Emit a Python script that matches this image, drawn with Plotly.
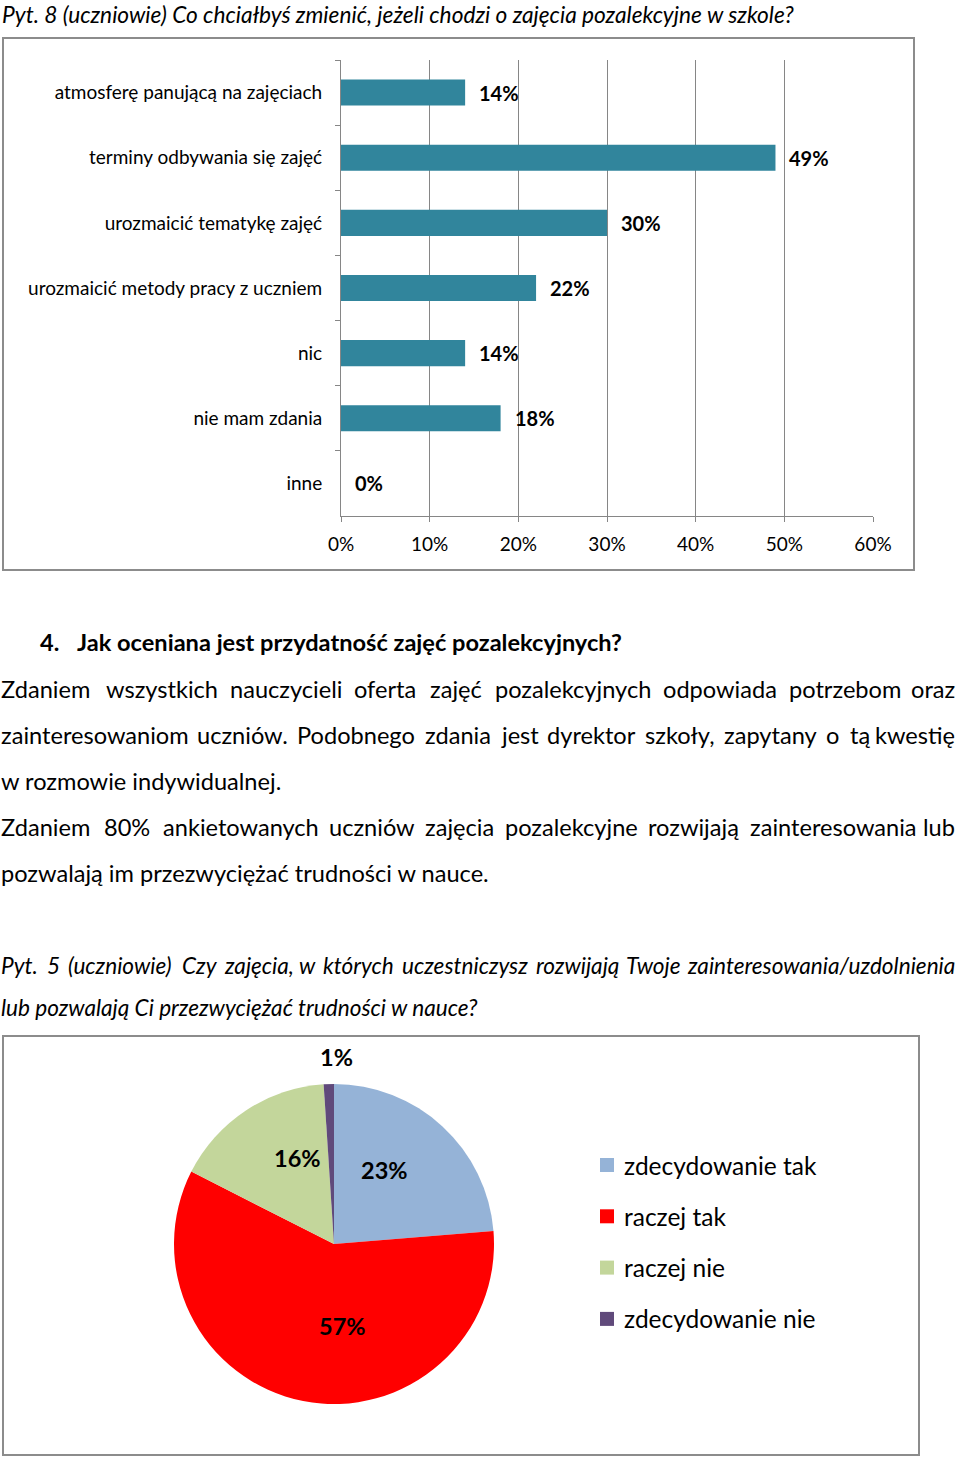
import plotly.graph_objects as go

W, H = 960, 1458

# ---------------- data ----------------
bar_categories = [
    "atmosferę panującą na zajęciach",
    "terminy odbywania się zajęć",
    "urozmaicić tematykę zajęć",
    "urozmaicić metody pracy z uczniem",
    "nic",
    "nie mam zdania",
    "inne",
]
bar_values = [14, 49, 30, 22, 14, 18, 0]
x_tick_values = [0, 10, 20, 30, 40, 50, 60]

pie_labels = ["zdecydowanie tak", "raczej tak", "raczej nie", "zdecydowanie nie"]
pie_values = [23, 57, 16, 1]
pie_colors = ["#95B3D7", "#FF0000", "#C3D69B", "#604A7B"]

title_bar = "Pyt. 8 (uczniowie) Co chciałbyś zmienić, jeżeli chodzi o zajęcia pozalekcyjne w szkole?"
heading_num = "4."
heading_text = "Jak oceniana jest przydatność zajęć pozalekcyjnych?"
para_lines = [
    ("Zdaniem wszystkich nauczycieli oferta zajęć pozalekcyjnych odpowiada potrzebom oraz", True),
    ("zainteresowaniom uczniów. Podobnego zdania jest dyrektor szkoły, zapytany o tą kwestię", True),
    ("w rozmowie indywidualnej.", False),
    ("Zdaniem 80% ankietowanych uczniów zajęcia pozalekcyjne rozwijają zainteresowania lub", True),
    ("pozwalają im przezwyciężać trudności w nauce.", False),
]
pie_title_lines = [
    ("Pyt. 5 (uczniowie) Czy zajęcia, w których uczestniczysz rozwijają Twoje zainteresowania/uzdolnienia", True),
    ("lub pozwalają Ci przezwyciężać trudności w nauce?", False),
]

FONT = "Lato, 'Open Sans', sans-serif"


def xp(px):
    return px / W


def yp(py):
    return 1 - py / H


# approximate glyph widths (em) for justification
_w = {
    'a': .49, 'b': .55, 'c': .46, 'd': .55, 'e': .51, 'f': .32, 'g': .49, 'h': .55,
    'i': .23, 'j': .23, 'k': .50, 'l': .23, 'm': .83, 'n': .55, 'o': .55, 'p': .55,
    'q': .55, 'r': .36, 's': .42, 't': .35, 'u': .55, 'v': .50, 'w': .76, 'x': .49,
    'y': .50, 'z': .44, '.': .23, ',': .23, '%': .78, '/': .37, '?': .42, '(': .30,
    ')': .30, ' ': .19,
}
_map = {'ą': 'a', 'ę': 'e', 'ć': 'c', 'ś': 's', 'ż': 'z', 'ź': 'z', 'ó': 'o', 'ł': 'l', 'ń': 'n'}


def est_width(word, size, factor=1.0):
    tot = 0
    for ch in word:
        c = _map.get(ch, ch)
        if c in _w:
            tot += _w[c]
        elif c.isdigit():
            tot += .58
        elif c.isupper():
            tot += .64
        else:
            tot += .5
    return tot * size * factor


annotations = []
shapes = []


def add_line(text, y, size, justify, style="normal", weight="normal", x0=0, x1=956):
    f = dict(family=FONT, size=size, color="#000000", style=style, weight=weight)
    if not justify:
        annotations.append(dict(x=xp(x0), y=yp(y), xref="paper", yref="paper", text=text,
                                showarrow=False, xanchor="left", yanchor="middle", font=f, xshift=-1))
        return
    factor = 0.965 if style == "italic" else 1.0
    words = text.split(" ")
    widths = [est_width(w_, size, factor) for w_ in words]
    gap = (x1 - x0 - sum(widths)) / (len(words) - 1)
    x = x0
    for i, w_ in enumerate(words):
        if i == len(words) - 1:
            annotations.append(dict(x=xp(x1), y=yp(y), xref="paper", yref="paper", text=w_,
                                    showarrow=False, xanchor="right", yanchor="middle", font=f, xshift=1))
        else:
            annotations.append(dict(x=xp(x), y=yp(y), xref="paper", yref="paper", text=w_,
                                    showarrow=False, xanchor="left", yanchor="middle", font=f,
                                    xshift=-1 if i == 0 else 0))
        x += widths[i] + gap


fig = go.Figure()

# ---------------- bar chart ----------------
fig.add_trace(go.Bar(
    x=bar_values, y=bar_categories, orientation="h",
    marker=dict(color="#31859C", line=dict(width=0)), width=0.4,
    xaxis="x", yaxis="y", showlegend=False, hoverinfo="x+y",
))
for cat, v in zip(bar_categories, bar_values):
    annotations.append(dict(x=v, y=cat, xref="x", yref="y", text=f"{v}%", showarrow=False,
                            xanchor="left", yanchor="middle", xshift=12,
                            font=dict(family=FONT, size=20, color="#000000", weight="bold")))

grey = "#868686"
fig.update_layout(
    xaxis=dict(domain=[xp(341), xp(873)], range=[0, 60], tickvals=x_tick_values,
               ticktext=[f"{t}%" for t in x_tick_values], showgrid=True, gridcolor=grey,
               gridwidth=1, zeroline=False, showline=True, linecolor=grey, linewidth=1,
               ticks="outside", ticklen=5, tickcolor=grey, anchor="y", automargin=False,
               tickfont=dict(family=FONT, size=19, color="#000000"), ticklabelstandoff=6),
    yaxis=dict(domain=[yp(516), yp(60)], type="category", categoryorder="array",
               categoryarray=bar_categories, autorange="reversed", showgrid=False,
               showline=True, linecolor=grey, linewidth=1, ticks="outside", ticklen=5,
               tickcolor=grey, tickson="boundaries", anchor="x", zeroline=False, automargin=False,
               tickfont=dict(family=FONT, size=19, color="#000000"), ticklabelstandoff=14),
)

# frames
shapes.append(dict(type="rect", xref="paper", yref="paper", x0=xp(3), x1=xp(914), y0=yp(570), y1=yp(38),
                   line=dict(color="#8C8C8C", width=2), fillcolor="rgba(0,0,0,0)", layer="below"))
shapes.append(dict(type="rect", xref="paper", yref="paper", x0=xp(3), x1=xp(919), y0=yp(1455), y1=yp(1036),
                   line=dict(color="#8C8C8C", width=2), fillcolor="rgba(0,0,0,0)", layer="below"))

# ---------------- texts ----------------
add_line(title_bar, 14, 22.7, False, style="italic", x0=1)
annotations.append(dict(x=xp(38), y=yp(642), xref="paper", yref="paper", text=heading_num, showarrow=False,
                        xanchor="left", yanchor="middle",
                        font=dict(family=FONT, size=23.6, color="#000000", weight="bold")))
annotations.append(dict(x=xp(75), y=yp(642), xref="paper", yref="paper", text=heading_text, showarrow=False,
                        xanchor="left", yanchor="middle",
                        font=dict(family=FONT, size=23.6, color="#000000", weight="bold")))
for i, (txt, just) in enumerate(para_lines):
    add_line(txt, 689 + 46 * i, 23.6, just)
for i, (txt, just) in enumerate(pie_title_lines):
    add_line(txt, 965 + 42 * i, 22.6, just, style="italic")

# ---------------- pie ----------------
cx, cy, r = 334, 1244, 160
fig.add_trace(go.Pie(
    labels=pie_labels, values=pie_values, sort=False, direction="clockwise", rotation=0,
    marker=dict(colors=pie_colors, line=dict(width=0)), textinfo="none",
    domain=dict(x=[xp(cx - r), xp(cx + r)], y=[yp(cy + r), yp(cy - r)]),
    showlegend=False, hoverinfo="label+percent", automargin=False,
))
pie_label_pos = [(384, 1170), (342, 1326), (297, 1158), (336, 1057)]
for v, (lx, ly) in zip(pie_values, pie_label_pos):
    annotations.append(dict(x=xp(lx), y=yp(ly), xref="paper", yref="paper", text=f"{v}%",
                            showarrow=False, xanchor="center", yanchor="middle",
                            font=dict(family=FONT, size=23.5, color="#000000", weight="bold")))

# manual legend
for i, (lab, col) in enumerate(zip(pie_labels, pie_colors)):
    ly = 1165 + 51.3 * i
    shapes.append(dict(type="rect", xref="paper", yref="paper", x0=xp(600), x1=xp(614),
                       y0=yp(ly + 7), y1=yp(ly - 7), fillcolor=col, line=dict(width=0)))
    annotations.append(dict(x=xp(622), y=yp(ly), xref="paper", yref="paper", text=lab, showarrow=False,
                            xanchor="left", yanchor="middle",
                            font=dict(family=FONT, size=24.5, color="#000000")))

fig.update_layout(
    width=W, height=H, margin=dict(l=0, r=0, t=0, b=0, autoexpand=False),
    paper_bgcolor="white", plot_bgcolor="white",
    annotations=annotations, shapes=shapes, showlegend=False,
    font=dict(family=FONT, color="#000000"),
)

fig.write_html("out.html")
